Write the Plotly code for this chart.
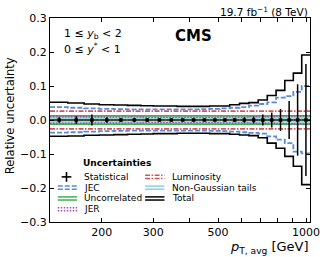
import math
import plotly.graph_objects as go

# ---------------- data ----------------
edges = [133, 153, 174, 196, 220, 245, 272, 300, 330, 362, 395, 430, 468,
         507, 548, 592, 638, 686, 737, 790, 846, 905, 967, 1032]

total_up = [0.052, 0.050, 0.047, 0.045, 0.044, 0.043, 0.042, 0.041, 0.041,
            0.040, 0.040, 0.040, 0.041, 0.041, 0.045, 0.049, 0.051, 0.059,
            0.072, 0.087, 0.116, 0.138, 0.191]
total_dn = [-0.048, -0.047, -0.045, -0.044, -0.043, -0.042, -0.041, -0.040,
            -0.040, -0.039, -0.039, -0.039, -0.040, -0.040, -0.042, -0.044,
            -0.046, -0.052, -0.068, -0.083, -0.107, -0.136, -0.190]
jec_up = [0.038, 0.036, 0.034, 0.033, 0.032, 0.031, 0.031, 0.031, 0.031,
          0.031, 0.031, 0.032, 0.033, 0.034, 0.036, 0.038, 0.042, 0.047,
          0.052, 0.066, 0.070, 0.083, 0.100]
jec_dn = [-0.037, -0.036, -0.034, -0.033, -0.032, -0.031, -0.031, -0.031,
          -0.031, -0.031, -0.031, -0.031, -0.032, -0.033, -0.034, -0.036,
          -0.038, -0.040, -0.048, -0.058, -0.068, -0.093, -0.098]
uncorr = [0.012] * 23
jer = [0.010, 0.010, 0.009, 0.009, 0.009, 0.009, 0.008, 0.008, 0.008, 0.008,
       0.008, 0.008, 0.008, 0.009, 0.009, 0.009, 0.010, 0.010, 0.010, 0.011,
       0.011, 0.012, 0.012]
nongauss = [0.006] * 23
lumi = 0.026
stat = [0.008, 0.011, 0.016, 0.008, 0.006, 0.006, 0.005, 0.005, 0.004,
        0.004, 0.004, 0.004, 0.004, 0.005, 0.006, 0.008, 0.010, 0.016,
        0.022, 0.032, 0.056, 0.105, 0.165]

legend_labels = ["Statistical", "JEC", "Uncorrelated", "JER",
                 "Luminosity", "Non-Gaussian tails", "Total"]
x_ticks = [200, 300, 500, 1000]
x_minor_ticks = [400, 600, 700, 800, 900]
y_ticks = [-0.3, -0.2, -0.1, 0.0, 0.1, 0.2, 0.3]

# ---------------- style ----------------
C_TOT = "black"
C_JEC = "#5b8bd8"
C_LUMI = "#d4545c"
C_UNC = "#3cb44b"
C_JER = "#a24fb0"
C_NG = "#8fd0e3"
DASH_JEC = "5px,2px"
DASH_LUMI = "5px,1.5px,1.5px,1.5px"
DASH_JER = "1.5px,1.5px"

W, H = 332, 257
ML, MR, MT, MB = 50, 14, 14, 35
PW, PH = W - ML - MR, H - MT - MB
FONT = "DejaVu Sans"


def step(vals):
    return vals + [vals[-1]]


def px(x):
    return (x - ML) / PW


def py(y):
    return (H - MB - y) / PH


fig = go.Figure()


def add_step(vals, color, dash, width=1.6):
    fig.add_trace(go.Scatter(x=edges, y=step(vals), mode="lines",
                             line=dict(color=color, width=width, dash=dash, shape="hv"),
                             showlegend=False, hoverinfo="skip"))


# uncorrelated band with fill
fig.add_trace(go.Scatter(x=edges, y=step([-v for v in uncorr]), mode="lines",
                         line=dict(color=C_UNC, width=1.6, shape="hv"),
                         showlegend=False, hoverinfo="skip"))
fig.add_trace(go.Scatter(x=edges, y=step(uncorr), mode="lines",
                         line=dict(color=C_UNC, width=1.6, shape="hv"),
                         fill="tonexty", fillcolor="rgba(60,180,75,0.25)",
                         showlegend=False, hoverinfo="skip"))
add_step(nongauss, C_NG, "solid", 1.4)
add_step([-v for v in nongauss], C_NG, "solid", 1.4)
add_step(jer, C_JER, DASH_JER, 1.6)
add_step([-v for v in jer], C_JER, DASH_JER, 1.6)
add_step([lumi] * 23, C_LUMI, DASH_LUMI, 1.6)
add_step([-lumi] * 23, C_LUMI, DASH_LUMI, 1.6)
add_step(jec_up, C_JEC, DASH_JEC, 1.8)
add_step(jec_dn, C_JEC, DASH_JEC, 1.8)
add_step(total_up, C_TOT, "solid", 1.6)
add_step(total_dn, C_TOT, "solid", 1.6)

# statistical points
centers = [(edges[i] + edges[i + 1]) / 2 for i in range(23)]
fig.add_trace(go.Scatter(
    x=centers, y=[0.0] * 23, mode="markers",
    marker=dict(color="black", size=3.5, symbol="square"),
    error_x=dict(type="data", symmetric=False,
                 array=[edges[i + 1] - centers[i] for i in range(23)],
                 arrayminus=[centers[i] - edges[i] for i in range(23)],
                 color="black", thickness=1.4, width=0),
    error_y=dict(type="data", array=stat, color="black", thickness=1.5, width=0),
    showlegend=False, hoverinfo="skip"))

# ---------------- manual legend ----------------
shapes = []
annots = []
row_y = [176, 187, 198, 209]
annots.append(dict(x=px(82), y=py(162), xref="paper", yref="paper",
                   text="<b>Uncertainties</b>", showarrow=False,
                   xanchor="left", yanchor="middle",
                   font=dict(family=FONT, size=9, color="black")))
cx, cy = 67, row_y[0]
shapes.append(dict(type="line", xref="paper", yref="paper", x0=px(cx - 5), x1=px(cx + 5),
                   y0=py(cy), y1=py(cy), line=dict(color="black", width=1.6)))
shapes.append(dict(type="line", xref="paper", yref="paper", x0=px(cx), x1=px(cx),
                   y0=py(cy - 5), y1=py(cy + 5), line=dict(color="black", width=1.6)))

entries = [
    (legend_labels[1], C_JEC, DASH_JEC, 58, 78, row_y[1], 83),
    (legend_labels[2], C_UNC, "solid", 58, 78, row_y[2], 83),
    (legend_labels[3], C_JER, DASH_JER, 58, 78, row_y[3], 83),
    (legend_labels[4], C_LUMI, DASH_LUMI, 148, 168, row_y[0], 174),
    (legend_labels[5], C_NG, "solid", 148, 168, row_y[1], 174),
    (legend_labels[6], C_TOT, "solid", 148, 168, row_y[2], 174),
]
for lab, col, dash, x0, x1, yy, tx in entries:
    for dy in (-1.6, 1.6):
        shapes.append(dict(type="line", xref="paper", yref="paper",
                           x0=px(x0), x1=px(x1), y0=py(yy + dy), y1=py(yy + dy),
                           line=dict(color=col, width=1.5, dash=dash)))
    annots.append(dict(x=px(tx), y=py(yy), xref="paper", yref="paper", text=lab,
                       showarrow=False, xanchor="left", yanchor="middle",
                       font=dict(family=FONT, size=9, color="black")))
annots.append(dict(x=px(83), y=py(row_y[0]), xref="paper", yref="paper",
                   text=legend_labels[0], showarrow=False, xanchor="left",
                   yanchor="middle", font=dict(family=FONT, size=9, color="black")))

annots += [
    dict(x=1.0, y=py(7), xref="paper", yref="paper",
         text="19.7 fb<sup>−1</sup> (8 TeV)", showarrow=False,
         xanchor="right", yanchor="middle", font=dict(family=FONT, size=10.5)),
    dict(x=px(177), y=py(32), xref="paper", yref="paper", text="<b>CMS</b>",
         showarrow=False, xanchor="left", yanchor="middle",
         font=dict(family=FONT, size=15)),
    dict(x=px(62), y=py(30), xref="paper", yref="paper",
         text="1 ≤ <i>y</i><sub>b</sub> &lt; 2", showarrow=False,
         xanchor="left", yanchor="middle", font=dict(family=FONT, size=11)),
    dict(x=px(62), y=py(45), xref="paper", yref="paper",
         text="0 ≤ <i>y</i><sup>*</sup> &lt; 1", showarrow=False,
         xanchor="left", yanchor="middle", font=dict(family=FONT, size=11)),
    dict(x=px(319), y=py(248), xref="paper", yref="paper",
         text="<i>p</i><sub>T, avg</sub> [GeV]", showarrow=False,
         xanchor="right", yanchor="middle", font=dict(family=FONT, size=13)),
    dict(x=px(9), y=py(114), xref="paper", yref="paper",
         text="Relative uncertainty", showarrow=False, textangle=-90,
         xanchor="center", yanchor="middle", font=dict(family=FONT, size=11.6)),
]

fig.update_layout(
    width=W, height=H, margin=dict(l=ML, r=MR, t=MT, b=MB),
    paper_bgcolor="white", plot_bgcolor="white",
    font=dict(family=FONT, size=11, color="black"),
    shapes=shapes, annotations=annots, showlegend=False,
    xaxis=dict(type="log", range=[math.log10(edges[0]), math.log10(edges[-1])],
               tickmode="array", tickvals=x_ticks, ticktext=[str(v) for v in x_ticks],
               ticks="inside", ticklen=4,
               tickwidth=1, tickcolor="black", mirror="allticks", showline=True,
               linecolor="black", linewidth=1.3, showgrid=False, zeroline=False,
               minor=dict(tickmode="array", tickvals=x_minor_ticks, ticks="inside",
                          ticklen=4, tickwidth=1, tickcolor="black", showgrid=False),
               tickfont=dict(family=FONT, size=11)),
    yaxis=dict(range=[-0.3, 0.3], tickvals=y_ticks, tickformat=".1f",
               ticks="inside", ticklen=4, tickwidth=1, tickcolor="black",
               mirror="allticks", showline=True, linecolor="black", linewidth=1.3,
               showgrid=False, zeroline=False, tickfont=dict(family=FONT, size=11)),
)

fig.write_html("out.html", config={"displayModeBar": False},
               post_script="document.body.style.margin='0';document.body.style.overflow='hidden';")
